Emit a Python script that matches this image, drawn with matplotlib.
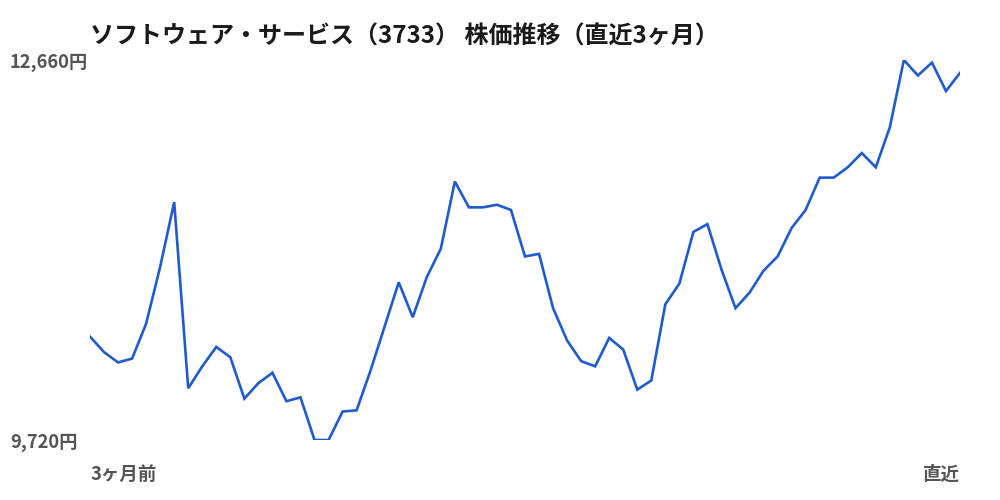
import matplotlib
matplotlib.use("Agg")
import matplotlib.pyplot as plt
from matplotlib.transforms import offset_copy

plt.rcParams['font.family'] = ['Noto Sans CJK JP', 'DejaVu Sans']

title = "ソフトウェア・サービス（3733） 株価推移（直近3ヶ月）"
x_labels = ["3ヶ月前", "直近"]
prices = [10520, 10400, 10320, 10350, 10620, 11060, 11560, 10120, 10290, 10440,
          10360, 10040, 10160, 10240, 10020, 10050, 9720, 9720, 9940, 9950,
          10260, 10600, 10940, 10670, 10980, 11200, 11720, 11520, 11520, 11540,
          11500, 11140, 11160, 10740, 10490, 10330, 10290, 10510, 10420, 10110,
          10180, 10770, 10930, 11330, 11390, 11040, 10740, 10860, 11030, 11140,
          11360, 11500, 11750, 11750, 11830, 11940, 11830, 12140, 12660, 12540,
          12640, 12420, 12560]

ymin, ymax = min(prices), max(prices)
idx = list(range(len(prices)))

fig = plt.figure(figsize=(10, 5), dpi=100)
ax = fig.add_axes([0.09, 0.12, 0.87, 0.76])
ax.plot(idx, prices, color="#1f5bcf", linewidth=1.9, solid_joinstyle="miter")
ax.set_xlim(0, len(prices) - 1)
ax.set_ylim(ymin, ymax)
ax.axis("off")

gray = "#555555"
fig.text(0.09, 0.926, title, fontsize=17.3, fontweight="bold", color="#1a1a1a",
         ha="left", va="center")
trans = offset_copy(ax.get_yaxis_transform(), fig=fig, x=0, y=-3, units="dots")
ax.text(-0.092, ymax, f"{ymax:,}円", transform=trans,
        fontsize=13.2, fontweight="bold", color=gray, ha="left", va="center")
ax.text(-0.092, ymin, f"{ymin:,}円", transform=trans,
        fontsize=13.2, fontweight="bold", color=gray, ha="left", va="center")
fig.text(0.09, 0.051, x_labels[0], fontsize=13.3, fontweight="bold", color=gray,
         ha="left", va="center")
fig.text(0.96, 0.051, x_labels[1], fontsize=13.3, fontweight="bold", color=gray,
         ha="right", va="center")

fig.savefig("out.png", dpi=100, facecolor="white")
